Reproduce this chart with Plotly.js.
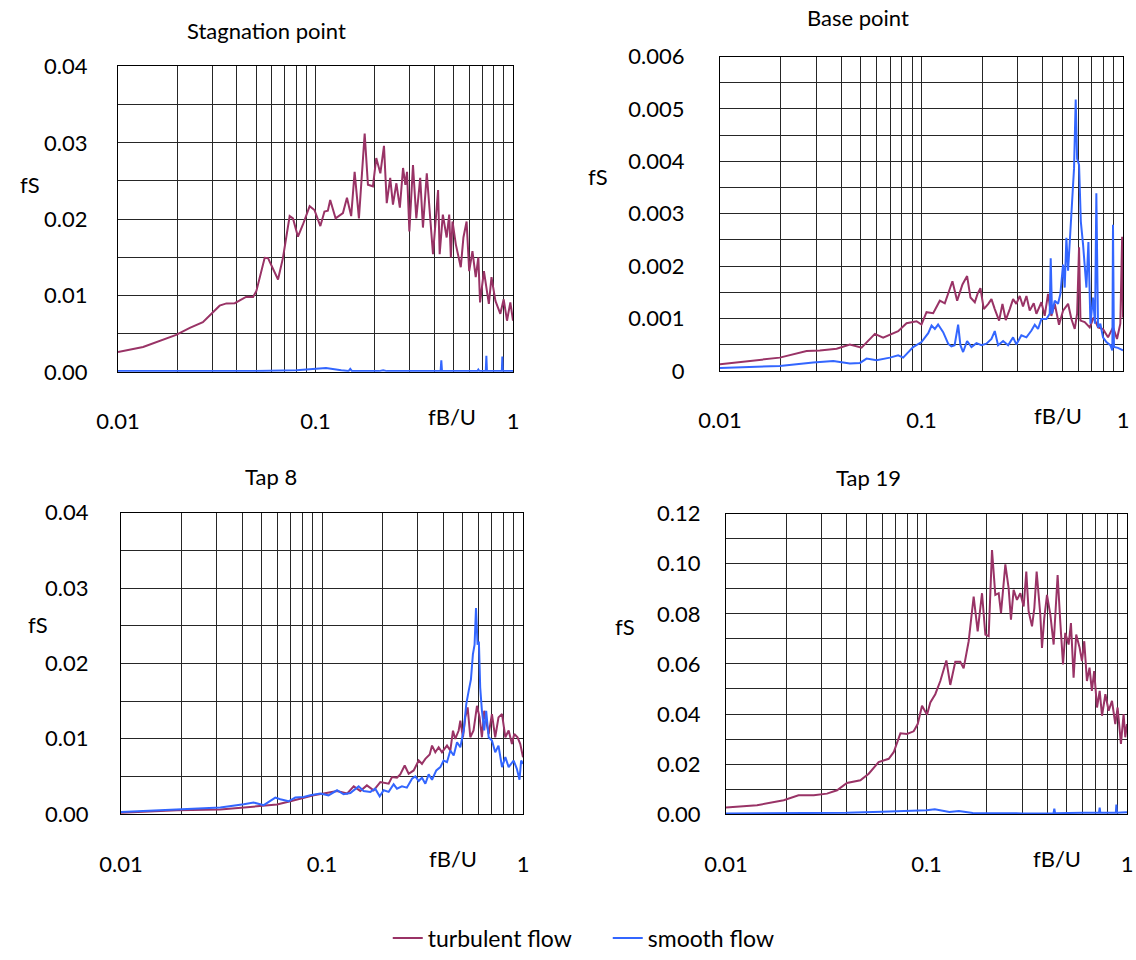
<!DOCTYPE html>
<html>
<head>
<meta charset="utf-8">
<script src="https://cdn.plot.ly/plotly-3.0.1.min.js"></script>
<style>html,body{margin:0;padding:0;background:#fff;}#chart{width:1136px;height:960px;}</style>
</head>
<body>
<div id="chart"></div>
<script>
// ---------- tick definitions ----------
const X_TICKS = [0.01,0.02,0.03,0.04,0.05,0.06,0.07,0.08,0.09,0.1,0.2,0.3,0.4,0.5,0.6,0.7,0.8,0.9,1];
const X_TICK_TEXT = ['0.01','','','','','','','','','0.1','','','','','','','','','1'];
const Y_TICKS_04 = [0,0.005,0.01,0.015,0.02,0.025,0.03,0.035,0.04];
const Y_TEXT_04 = ['0.00','','0.01','','0.02','','0.03','','0.04'];
const Y_TICKS_006 = [0,0.0005,0.001,0.0015,0.002,0.0025,0.003,0.0035,0.004,0.0045,0.005,0.0055,0.006];
const Y_TEXT_006 = ['0','','0.001','','0.002','','0.003','','0.004','','0.005','','0.006'];
const Y_TICKS_12 = [0,0.01,0.02,0.03,0.04,0.05,0.06,0.07,0.08,0.09,0.10,0.11,0.12];
const Y_TEXT_12 = ['0.00','','0.02','','0.04','','0.06','','0.08','','0.10','','0.12'];

const PANEL_TITLES = ['Stagnation point','Base point','Tap 8','Tap 19'];
const SERIES_NAMES = ['turbulent flow','smooth flow'];

// ---------- Stagnation point ----------
const stagTurbF = [0.0100,0.0134,0.0197,0.0231,0.0269,0.0291,0.0327,0.0354,0.0390,0.0447,
0.0483,0.0502,0.0553,0.0575,0.0646,0.0684,0.0740,0.0769,0.0815,0.0864,
0.0934,0.0988,0.1058,0.1110,0.1155,0.1187,0.1264,0.1377,0.1443,0.1516,
0.1578,0.1659,0.1774,0.1843,0.1953,0.2031,0.2130,0.2222,0.2295,0.2389,
0.2467,0.2568,0.2674,0.2775,0.2851,0.2907,0.2987,0.3116,0.3239,0.3390,
0.3500,0.3660,0.3800,0.3935,0.4175,0.4253,0.4413,0.4614,0.4753,0.4846,
0.4940,0.5134,0.5439,0.5610,0.5822,0.6000,0.6233,0.6475,0.6675,0.6810,
0.7125,0.7546,0.7782,0.8146,0.8627,0.8970,0.9325,0.9695,1.0000];
const stagTurbS = [0.0026,0.00325,0.00485,0.00576,0.0065,0.00737,0.00867,0.00897,0.0090,0.00984,
0.0098,0.0106,0.01495,0.0149,0.0121,0.0149,0.0204,0.0201,0.0177,0.0193,
0.0217,0.0212,0.0191,0.0210,0.0211,0.0225,0.0201,0.0208,0.0228,0.0204,
0.0262,0.0201,0.0312,0.0245,0.0243,0.0280,0.0260,0.0296,0.0221,0.0254,
0.0219,0.0247,0.0215,0.0267,0.0245,0.0262,0.0184,0.0271,0.0201,0.0254,
0.0189,0.0260,0.0210,0.0154,0.0238,0.0154,0.0206,0.0176,0.0206,0.0150,
0.0197,0.0167,0.0137,0.0176,0.0197,0.0132,0.0158,0.0124,0.0150,0.0091,
0.0132,0.0089,0.0124,0.0093,0.0076,0.0095,0.0067,0.0091,0.0067];
const stagSmoothF = [0.01,0.03,0.05,0.08,0.1,0.113,0.135,0.147,0.150,0.153,0.21,0.22,0.23,0.43,0.4335,0.437,0.66,0.6675,0.675,0.728,0.733,0.738,0.878,0.883,0.888,1.0];
const stagSmoothS = [0.0001,0.0001,0.0001,0.0002,0.0004,0.0005,0.0002,0.0001,0.0004,0.0001,0.0001,0.0002,0.0001,0.0001,0.0015,0.0001,0.0001,0.0003,0.0001,0.0001,0.0021,0.0001,0.0001,0.0020,0.0001,0.0001];

// ---------- Base point ----------
const baseTurbF = [0.0100,0.0198,0.0269,0.0313,0.0379,0.0441,0.0504,0.0587,0.0645,0.0766,
0.0843,0.0945,0.1000,0.1059,0.1143,0.1233,0.1305,0.1424,0.1503,0.1597,
0.1684,0.1750,0.1839,0.1897,0.1961,0.2038,0.2145,0.2224,0.2310,0.2427,
0.2522,0.2619,0.2742,0.2848,0.2955,0.3073,0.3190,0.3317,0.3444,0.3606,
0.3717,0.3936,0.4087,0.4246,0.4410,0.4583,0.4814,0.5041,0.5338,0.5547,
0.5760,0.5920,0.6052,0.6150,0.6457,0.6839,0.7158,0.7518,0.7958,0.8425,
0.8920,0.9337,0.9697,0.9902,1.0000];
const baseTurbS = [0.000126,0.000253,0.000379,0.00039,0.000423,0.000505,0.000442,0.000707,0.000632,0.000758,
0.00091,0.000947,0.000884,0.00112,0.0011,0.00134,0.00129,0.00171,0.00134,0.00165,
0.00181,0.0014,0.00131,0.00147,0.00158,0.00118,0.00128,0.00137,0.00118,0.00096,
0.00128,0.00097,0.00118,0.00137,0.00128,0.00143,0.00123,0.00143,0.00115,0.00129,
0.00109,0.00131,0.00105,0.00147,0.00105,0.00128,0.00088,0.00115,0.00128,0.00099,
0.0008,0.00109,0.00236,0.00096,0.00093,0.00083,0.00102,0.00083,0.0008,0.00064,
0.00083,0.00061,0.0009,0.00256,0.00102];
const baseSmoothF = [0.0100,0.0198,0.0290,0.0365,0.0441,0.0495,0.0534,0.0598,0.0697,0.0766,
0.0811,0.0909,0.1000,0.1080,0.1122,0.1165,0.1209,0.1281,0.1356,0.1407,
0.1460,0.1520,0.1560,0.1609,0.1684,0.1770,0.1874,0.1984,0.2100,0.2224,
0.2310,0.2399,0.2541,0.2690,0.2848,0.2955,0.3131,0.3317,0.3513,0.3648,
0.3787,0.3936,0.4168,0.4328,0.4377,0.4444,0.4583,0.4761,0.4888,0.5041,
0.5137,0.5236,0.5338,0.5475,0.5607,0.5716,0.5825,0.5920,0.6052,0.6176,
0.6336,0.6457,0.6582,0.6736,0.6892,0.7099,0.7264,0.7375,0.7518,0.7718,
0.7958,0.8269,0.8653,0.8855,0.8920,0.9018,0.9442,1.0000];
const baseSmoothS = [0.000057,0.000095,0.000158,0.00019,0.000139,0.000152,0.000234,0.000202,0.000253,0.000297,
0.000253,0.000455,0.00055,0.00072,0.000865,0.0008,0.000884,0.00074,0.000518,0.000467,
0.00049,0.000884,0.00049,0.00036,0.00057,0.000455,0.00053,0.00049,0.00052,0.00061,
0.00076,0.00049,0.00057,0.00049,0.00064,0.000505,0.00068,0.00064,0.00077,0.00088,
0.0008,0.00099,0.00099,0.00109,0.00215,0.00109,0.00134,0.00128,0.00147,0.00203,
0.00159,0.00254,0.00191,0.00267,0.00323,0.00387,0.00518,0.00405,0.00393,0.00285,
0.00241,0.00191,0.00159,0.00246,0.0009,0.0014,0.0009,0.00339,0.00083,0.0009,
0.00064,0.00055,0.00049,0.00039,0.00279,0.000455,0.00044,0.00039];

// ---------- Tap 8 ----------
const tap8TurbF = [0.0100,0.0190,0.0312,0.0440,0.0597,0.0696,0.0780,0.0909,0.1019,0.1188,
0.1332,0.1438,0.1551,0.1672,0.1807,0.1951,0.2146,0.2229,0.2361,0.2450,
0.2579,0.2698,0.2858,0.3027,0.3143,0.3267,0.3434,0.3527,0.3662,0.3805,
0.3952,0.4187,0.4349,0.4484,0.4603,0.4786,0.4877,0.5027,0.5162,0.5305,
0.5468,0.5675,0.5903,0.6082,0.6246,0.6413,0.6748,0.7006,0.7274,0.7552,
0.7865,0.8169,0.8484,0.8811,0.9045,0.9393,0.9688,1.0000];
const tap8TurbS = [0.00018,0.00053,0.00062,0.00097,0.00127,0.00171,0.00207,0.0025,0.00273,0.00308,
0.00273,0.00369,0.00308,0.00382,0.00317,0.00426,0.00404,0.00492,0.00484,0.00528,
0.00646,0.00536,0.0058,0.00712,0.00668,0.00734,0.00791,0.0091,0.00822,0.00888,
0.00822,0.0091,0.00844,0.01108,0.00998,0.0111,0.0124,0.0102,0.01284,0.01416,
0.0102,0.0111,0.01438,0.01284,0.0102,0.01372,0.01064,0.01328,0.0102,0.01284,
0.01328,0.0102,0.0111,0.00932,0.01064,0.0102,0.00932,0.00756];
const tap8SmoothF = [0.0100,0.0190,0.0312,0.0408,0.0457,0.0513,0.0586,0.0620,0.0682,0.0736,
0.0810,0.0875,0.0981,0.1077,0.1188,0.1280,0.1384,0.1521,0.1610,0.1740,
0.1840,0.1936,0.2027,0.2146,0.2272,0.2361,0.2499,0.2644,0.2804,0.2913,
0.3027,0.3143,0.3267,0.3394,0.3527,0.3704,0.3879,0.4027,0.4187,0.4349,
0.4520,0.4697,0.4877,0.5068,0.5221,0.5367,0.5508,0.5633,0.5742,0.5837,
0.5944,0.6033,0.6125,0.6246,0.6413,0.6558,0.6748,0.7006,0.7274,0.7552,
0.7865,0.8169,0.8484,0.8981,0.9321,0.9608,0.9789,1.0000];
const tap8SmoothS = [0.0003,0.00066,0.00088,0.00132,0.00154,0.00119,0.0022,0.00198,0.00171,0.0022,
0.00229,0.0025,0.00273,0.0025,0.00317,0.00264,0.00281,0.00369,0.00308,0.00295,
0.00338,0.00237,0.00317,0.00295,0.00396,0.00338,0.00369,0.00352,0.0047,0.00501,
0.0044,0.00484,0.00404,0.00528,0.00457,0.0058,0.00624,0.00712,0.0069,0.00844,
0.00778,0.00954,0.00888,0.0111,0.0146,0.01635,0.01789,0.02119,0.0225,0.02734,
0.0225,0.0229,0.01679,0.01372,0.0111,0.01372,0.0102,0.00976,0.00822,0.0091,
0.00624,0.00756,0.00624,0.00712,0.00602,0.00457,0.00712,0.00668];

// ---------- Tap 19 ----------
const tap19TurbF = [0.0100,0.01428,0.0194,0.0230,0.0274,0.0319,0.0358,0.0401,0.0468,0.0515,
0.0577,0.0648,0.0686,0.0741,0.0799,0.0863,0.0904,0.0950,0.1006,0.1045,
0.1106,0.1172,0.1256,0.1314,0.1392,0.1474,0.1532,0.1623,0.1719,0.1800,
0.1892,0.1966,0.2042,0.2122,0.2204,0.2291,0.2353,0.2473,0.2568,0.2638,
0.2720,0.2826,0.2938,0.3052,0.3146,0.3231,0.3359,0.3450,0.3543,0.3695,
0.3767,0.3867,0.3990,0.4146,0.4307,0.4440,0.4508,0.4646,0.4796,0.4923,
0.5115,0.5253,0.5415,0.5580,0.5805,0.5961,0.6121,0.6311,0.6504,0.6680,
0.6860,0.7087,0.7308,0.7505,0.7801,0.8100,0.8418,0.8742,0.8978,0.9328,
0.9617,0.9805,1.0000];
const tap19TurbS = [0.00265,0.00357,0.00556,0.00754,0.00754,0.0082,0.00953,0.01244,0.0135,0.01614,
0.02077,0.0221,0.02474,0.03228,0.032,0.03308,0.036,0.04326,0.0397,0.04459,
0.0479,0.05318,0.0614,0.0516,0.06086,0.06086,0.0582,0.06906,0.08692,0.07303,
0.08824,0.0717,0.07105,0.10544,0.08758,0.08824,0.0803,0.09975,0.09023,0.07766,
0.08957,0.0856,0.08824,0.08295,0.09684,0.081,0.075,0.0823,0.09684,0.07964,
0.06641,0.0783,0.08758,0.07964,0.06774,0.08361,0.09552,0.077,0.0598,0.07237,
0.06774,0.07634,0.05451,0.0717,0.06641,0.06112,0.06906,0.05318,0.0585,0.04922,
0.05715,0.0426,0.04922,0.0393,0.0479,0.04128,0.04525,0.036,0.0426,0.02805,
0.03995,0.0307,0.036];
const tap19SmoothF = [0.01,0.03,0.04,0.06,0.08,0.1,0.11,0.13,0.145,0.17,0.3,0.43,0.434,0.438,0.6,0.725,0.7306,0.736,0.88,0.885,0.89,1.0];
const tap19SmoothS = [0.0003,0.0003,0.0006,0.001,0.0013,0.0016,0.002,0.0009,0.0013,0.0005,0.0003,0.0004,0.0022,0.0004,0.0006,0.0006,0.0026,0.0006,0.0006,0.0038,0.0006,0.0008];

// ---------- styling ----------
const W = 1136, H = 960;
const TURB_COLOR = '#993366';
const SMOOTH_COLOR = '#3366FF';
const FONT = 'Lato, "Open Sans", "Liberation Sans", sans-serif';

// plot areas in pixels [left, right, top, bottom]
const BOXES = [[118,513,67,375],[720,1123,57,374],[121,523,517,821],[726,1127,518,821]];
const Y_STANDOFF = [25, 30, 27, 20];
const px = v => v / W;
const py = v => 1 - v / H;

const panels = [
  {tf: stagTurbF, ts: stagTurbS, sf: stagSmoothF, ss: stagSmoothS, yt: Y_TICKS_04, ytx: Y_TEXT_04, yr: [0,0.04]},
  {tf: baseTurbF, ts: baseTurbS, sf: baseSmoothF, ss: baseSmoothS, yt: Y_TICKS_006, ytx: Y_TEXT_006, yr: [0,0.006]},
  {tf: tap8TurbF, ts: tap8TurbS, sf: tap8SmoothF, ss: tap8SmoothS, yt: Y_TICKS_04, ytx: Y_TEXT_04, yr: [0,0.04]},
  {tf: tap19TurbF, ts: tap19TurbS, sf: tap19SmoothF, ss: tap19SmoothS, yt: Y_TICKS_12, ytx: Y_TEXT_12, yr: [0,0.12]}
];

const data = [];
const layout = {
  width: W, height: H,
  margin: {l:0, r:0, t:0, b:0},
  paper_bgcolor: '#fff', plot_bgcolor: '#fff',
  font: {family: FONT, size: 22, color: '#000'},
  showlegend: true,
  legend: {orientation: 'h', x: 0.535, xanchor: 'center', y: py(946), yanchor: 'middle',
           font: {family: FONT, size: 23, color: '#000'}, itemwidth: 30, entrywidth: 175,
           tracegroupgap: 0, traceorder: 'normal'},
  annotations: []
};

panels.forEach((p, i) => {
  const n = i === 0 ? '' : String(i + 1);
  const xa = 'x' + n, ya = 'y' + n;
  data.push({x: p.tf, y: p.ts, xaxis: xa, yaxis: ya, type: 'scatter', mode: 'lines',
             name: SERIES_NAMES[0], legendgroup: 't', showlegend: i === 0,
             line: {color: TURB_COLOR, width: 2}});
  data.push({x: p.sf, y: p.ss, xaxis: xa, yaxis: ya, type: 'scatter', mode: 'lines',
             name: SERIES_NAMES[1], legendgroup: 's', showlegend: i === 0,
             line: {color: SMOOTH_COLOR, width: 2}});
  const b = BOXES[i];
  layout['xaxis' + n] = {
    domain: [px(b[0]), px(b[1])], anchor: ya, type: 'log', range: [-2, 0],
    tickmode: 'array', tickvals: X_TICKS, ticktext: X_TICK_TEXT,
    showgrid: true, gridcolor: '#262626', gridwidth: 1,
    showline: true, linecolor: '#000', linewidth: 1, mirror: true,
    zeroline: false, ticks: '', ticklabelstandoff: 30,
    tickfont: {family: FONT, size: 22, color: '#000'}, fixedrange: true
  };
  layout['yaxis' + n] = {
    domain: [py(b[3]), py(b[2])], anchor: xa, range: p.yr,
    tickmode: 'array', tickvals: p.yt, ticktext: p.ytx,
    showgrid: true, gridcolor: '#262626', gridwidth: 1,
    showline: true, linecolor: '#000', linewidth: 1, mirror: true,
    zeroline: false, ticks: '', ticklabelstandoff: Y_STANDOFF[i],
    tickfont: {family: FONT, size: 22, color: '#000'}, fixedrange: true
  };
});

// panel titles, axis labels
const TITLE_POS = [[266,31],[858,18],[271,480],[868,482]];
const FS_POS = [[30,186],[598,178],[38,630],[625,632]];
const FBU_POS = [[452,420],[1058,419],[453,866],[1057,866]];
TITLE_POS.forEach((t, i) => {
  layout.annotations.push({text: PANEL_TITLES[i], xref: 'paper', yref: 'paper', x: px(t[0]), y: py(t[1]),
    xanchor: 'center', yanchor: 'middle', showarrow: false, font: {family: FONT, size: 22, color: '#000'}});
});
FS_POS.forEach(t => {
  layout.annotations.push({text: 'fS', xref: 'paper', yref: 'paper', x: px(t[0]), y: py(t[1]),
    xanchor: 'center', yanchor: 'middle', showarrow: false, font: {family: FONT, size: 22, color: '#000'}});
});
FBU_POS.forEach(t => {
  layout.annotations.push({text: 'fB/U', xref: 'paper', yref: 'paper', x: px(t[0]), y: py(t[1]),
    xanchor: 'center', yanchor: 'middle', showarrow: false, font: {family: FONT, size: 22, color: '#000'}});
});

Plotly.newPlot('chart', data, layout, {displayModeBar: false, staticPlot: true});
</script>
</body>
</html>
